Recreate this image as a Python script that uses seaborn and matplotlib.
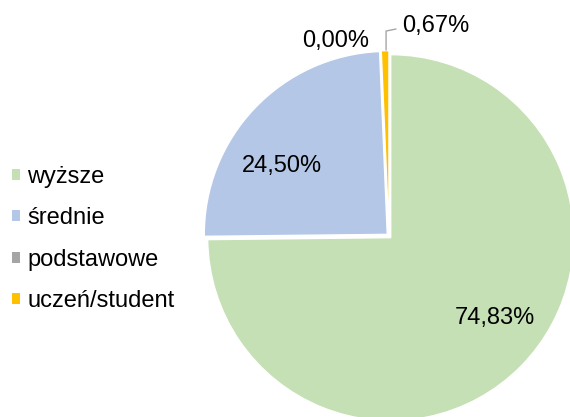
import matplotlib
matplotlib.use('Agg')
import matplotlib.pyplot as plt
from matplotlib.patches import Patch
import seaborn as sns

# education level shares (%)
categories = ['wyższe', 'średnie', 'podstawowe', 'uczeń/student']
shares = [74.83, 24.50, 0.00, 0.67]
pct_labels = ['74,83%', '24,50%', '0,00%', '0,67%']
colors = ['#C5E0B4', '#B4C7E7', '#A5A5A5', '#FFC000']

sns.set_style('white')
plt.rcParams['font.family'] = ['Liberation Sans', 'DejaVu Sans']
plt.rcParams['text.color'] = 'black'

fig = plt.figure(figsize=(5.7, 4.17), dpi=100)
# pie is larger than the canvas, it gets cut at the right and bottom
ax = fig.add_axes([206 / 570, -2 / 417, 366 / 570, 366 / 417])
wedges, _ = ax.pie(shares, colors=colors, startangle=90, counterclock=False,
                   explode=[0.013] * len(shares),
                   wedgeprops=dict(edgecolor='white', linewidth=1.0))
ax.set_xlim(-1, 1)
ax.set_ylim(-1, 1)

# data labels
label_pos = [(0.577, -0.481, 'center'), (-0.585, 0.350, 'center'),
             (-0.290, 1.033, 'center'), (0.071, 1.115, 'left')]
for txt, (x, y, ha) in zip(pct_labels, label_pos):
    ax.text(x, y, txt, ha=ha, va='baseline', fontsize=17, color='black')

# leader line for the small slice
ax.plot([-0.016, -0.016, 0.038], [1.016, 1.120, 1.131], color='#A6A6A6',
        lw=1, clip_on=False)

handles = [Patch(facecolor=c, edgecolor='none') for c in colors]
fig.legend(handles, categories, loc='center left',
           bbox_to_anchor=(12 / 570, 178 / 417), frameon=False, fontsize=17,
           handlelength=0.34, handleheight=0.34, handletextpad=0.3,
           labelspacing=0.82, borderpad=0, borderaxespad=0)

fig.savefig('out.png', dpi=100)
